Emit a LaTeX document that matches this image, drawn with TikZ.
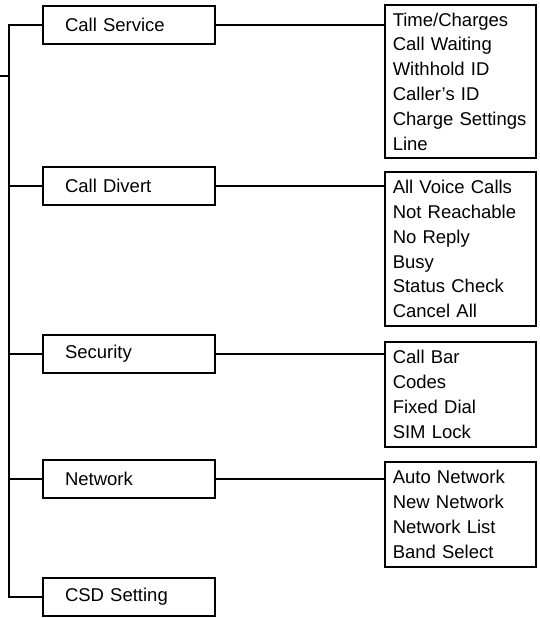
\documentclass[tikz,border=0pt]{standalone}
\usepackage{fontspec}
\setmainfont{Liberation Sans}
\begin{document}
\begin{tikzpicture}[x=1pt,y=-1pt,
  every node/.style={font=\fontsize{18.5}{24.8}\selectfont},
  midbox/.style={draw,line width=1.5pt,align=left,text width=128pt,inner xsep=22pt,inner ysep=0pt,minimum height=38pt,anchor=center},
  listbox/.style={draw,line width=1.5pt,align=left,text width=135pt,inner xsep=8pt,inner ysep=0pt,anchor=west},
  conn/.style={line width=1.5pt}]
\useasboundingbox (0,0) rectangle (540,618);
% middle boxes
\node[midbox] (cs)  at (129,25)  {Call Service};
\node[midbox] (div) at (129,186) {Call Divert};
\node[midbox] (sec) at (129,354) {Security};
\node[midbox] (net) at (129,479) {Network};
\node[midbox] (csd) at (129,597) {CSD Setting};
% lists
\node[listbox,minimum height=153pt] (csl) at (384,81.5) {Time/Charges\\Call Waiting\\Withhold ID\\Caller’s ID\\Charge Settings\\Line};
\node[listbox,minimum height=154pt] (divl) at (384,249) {All Voice Calls\\Not Reachable\\No Reply\\Busy\\Status Check\\Cancel All};
\node[listbox,minimum height=105pt] (secl) at (384,394.5) {Call Bar\\Codes\\Fixed Dial\\SIM Lock};
\node[listbox,minimum height=105pt] (netl) at (384,514.5) {Auto Network\\New Network\\Network List\\Band Select};
% trunk
\coordinate (root) at (0,76);
\coordinate (trunk) at (9,76);
\draw[conn] (root) -- (trunk);
\draw[conn] (cs.west) -- (cs.west -| trunk) -- (csd.west -| trunk) -- (csd.west);
\draw[conn] (div.west) -- (div.west -| trunk);
\draw[conn] (sec.west) -- (sec.west -| trunk);
\draw[conn] (net.west) -- (net.west -| trunk);
% branches to lists
\draw[conn] (cs.east) -- (cs.east -| csl.west);
\draw[conn] (div.east) -- (div.east -| divl.west);
\draw[conn] (sec.east) -- (sec.east -| secl.west);
\draw[conn] (net.east) -- (net.east -| netl.west);
\end{tikzpicture}
\end{document}
